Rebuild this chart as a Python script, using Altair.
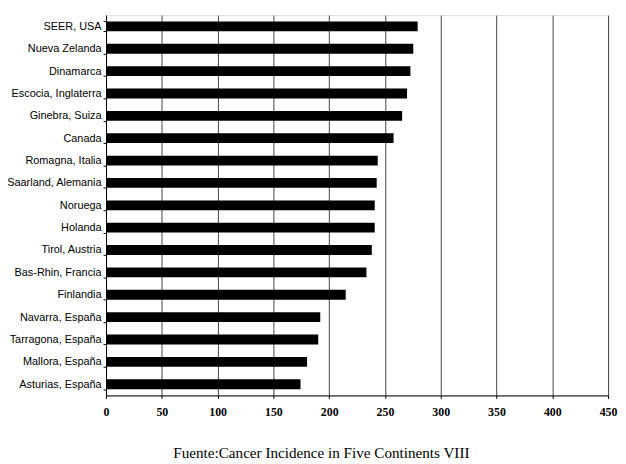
import altair as alt
import pandas as pd

regions = [
    "SEER, USA", "Nueva Zelanda", "Dinamarca", "Escocia, Inglaterra",
    "Ginebra, Suiza", "Canada", "Romagna, Italia", "Saarland, Alemania",
    "Noruega", "Holanda", "Tirol, Austria", "Bas-Rhin, Francia",
    "Finlandia", "Navarra, España", "Tarragona, España", "Mallora, España",
    "Asturias, España",
]
rates = [279.3, 275.4, 272.8, 269.8, 265.4, 257.7, 243.5, 242.6,
         240.8, 240.8, 238.2, 233.4, 214.8, 192.0, 190.2, 180.2, 174.3]
x_ticks = [0, 50, 100, 150, 200, 250, 300, 350, 400, 450]
footer = "Fuente:Cancer Incidence in Five Continents VIII"

df = pd.DataFrame({"region": regions, "rate": rates})

chart = alt.Chart(df).mark_bar(color="black").encode(
    x=alt.X(
        "rate:Q",
        scale=alt.Scale(domain=[0, 450], nice=False),
        axis=alt.Axis(
            values=x_ticks, title=None, grid=True, gridColor="#444",
            gridOpacity=1, gridWidth=1, domainColor="black", tickColor="black",
            tickSize=3, labelPadding=8, labelFont="Liberation Serif",
            labelFontWeight="bold", labelFontSize=12, labelColor="black",
            labelFlush=False,
        ),
    ),
    y=alt.Y(
        "region:N",
        sort=regions,
        scale=alt.Scale(paddingInner=0.56, paddingOuter=0.28),
        axis=alt.Axis(
            title=None, grid=False, domainColor="black", tickColor="black",
            tickSize=3, tickBand="extent", labelPadding=2,
            labelFont="Liberation Sans", labelFontSize=11, labelColor="black",
        ),
    ),
).properties(
    width=507,
    height=384,
    padding={"left": 99, "top": 5, "right": 10, "bottom": 66},
    autosize=alt.AutoSizeParams(type="none"),
    title=alt.TitleParams(
        footer, orient="bottom", anchor="middle", offset=29, dx=-36,
        font="Liberation Serif", fontSize=15.3, fontWeight="normal", color="black",
    ),
).configure_view(stroke=None).configure(background="white")

chart.save("out.html", embed_options={"renderer": "svg", "actions": False})
